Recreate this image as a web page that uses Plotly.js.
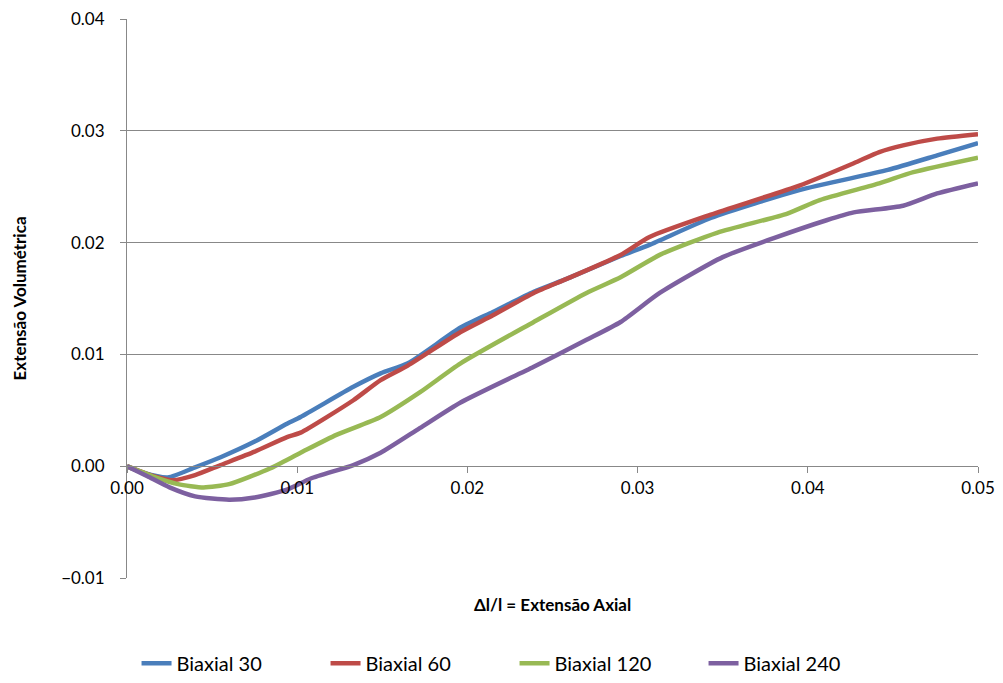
<!DOCTYPE html>
<html>
<head>
<meta charset="utf-8">
<script src="https://cdn.plot.ly/plotly-3.0.1.min.js"></script>
<style>html,body{margin:0;padding:0;background:#fff;}#chart{width:1003px;height:683px;}</style>
</head>
<body>
<div id="chart"></div>
<script>
const seriesNames = ["Biaxial 30", "Biaxial 60", "Biaxial 120", "Biaxial 240"];
const seriesColors = ["#4A7EBB", "#BE4B48", "#98B954", "#7D60A0"];

const x30 = [0, 0.001, 0.0024, 0.004, 0.0055, 0.0075, 0.0094, 0.0102, 0.0133, 0.0149, 0.0165, 0.0196, 0.0215, 0.0239, 0.0259, 0.029, 0.0307, 0.0343, 0.0395, 0.0447, 0.0476, 0.05];
const y30 = [0, -0.0006, -0.001, -0.0001, 0.0008, 0.0022, 0.0038, 0.0044, 0.0071, 0.0083, 0.0092, 0.0124, 0.0138, 0.0156, 0.0168, 0.0188, 0.0198, 0.0222, 0.0247, 0.0265, 0.0278, 0.0289];

const x60 = [0, 0.0012, 0.0027, 0.004, 0.0055, 0.0075, 0.0094, 0.0102, 0.0133, 0.0149, 0.0165, 0.0196, 0.0215, 0.0239, 0.0259, 0.029, 0.0307, 0.0343, 0.0395, 0.0427, 0.0442, 0.0456, 0.0476, 0.05];
const y60 = [0, -0.0007, -0.00125, -0.0008, 0.0001, 0.0013, 0.0026, 0.0030, 0.0059, 0.0077, 0.0090, 0.0120, 0.0135, 0.0155, 0.0168, 0.0189, 0.0205, 0.0225, 0.0251, 0.0271, 0.0281, 0.0287, 0.0293, 0.0297];

const x120 = [0, 0.0015, 0.003, 0.0045, 0.006, 0.0084, 0.0102, 0.0123, 0.0149, 0.0172, 0.0196, 0.0239, 0.027, 0.029, 0.0313, 0.0347, 0.0388, 0.0407, 0.0442, 0.0462, 0.05];
const y120 = [0, -0.0009, -0.0016, -0.0019, -0.0016, -0.0002, 0.0012, 0.0028, 0.0044, 0.0066, 0.0092, 0.0129, 0.0155, 0.0169, 0.0189, 0.0209, 0.0226, 0.0238, 0.0253, 0.0263, 0.0276];

const x240 = [0, 0.0012, 0.0025, 0.004, 0.006, 0.0075, 0.0094, 0.0108, 0.0133, 0.0149, 0.0172, 0.0196, 0.0239, 0.027, 0.029, 0.0313, 0.035, 0.038, 0.0411, 0.0427, 0.0456, 0.0476, 0.05];
const y240 = [0, -0.0009, -0.0019, -0.0027, -0.0030, -0.0028, -0.0021, -0.0011, 0.0001, 0.0012, 0.0034, 0.0057, 0.0089, 0.0113, 0.0129, 0.0155, 0.0187, 0.0204, 0.0220, 0.0227, 0.0233, 0.0244, 0.0253];

const xTickVals = [0, 0.01, 0.02, 0.03, 0.04, 0.05];
const yTickVals = [-0.01, 0, 0.01, 0.02, 0.03, 0.04];
const xTitle = "Δl/l = Extensão Axial";
const yTitle = "Extensão Volumétrica";

const xs = [x30, x60, x120, x240];
const ys = [y30, y60, y120, y240];
const FONT = "Lato, 'Liberation Sans', sans-serif";

const traces = seriesNames.map((n, i) => ({
  x: xs[i], y: ys[i], name: n, type: "scatter", mode: "lines",
  line: {color: seriesColors[i], width: 4.5, shape: "spline", smoothing: 0.6}
}));

const layout = {
  width: 1003, height: 683,
  margin: {l: 127, r: 25, t: 19, b: 105, autoexpand: false},
  paper_bgcolor: "#fff", plot_bgcolor: "#fff",
  font: {family: FONT, size: 17, color: "#000"},
  showlegend: true,
  legend: {orientation: "h", xref: "container", yref: "container",
           x: 0.513, xanchor: "center", y: 0.029, yanchor: "middle",
           font: {family: FONT, size: 20}, entrywidth: 144, entrywidthmode: "pixels",
           traceorder: "normal"},
  xaxis: {
    range: [0, 0.05], tickvals: xTickVals, tickformat: ".2f",
    anchor: "free", position: 0.2,
    showgrid: false, zeroline: false, showline: true, linecolor: "#888", linewidth: 1,
    ticks: "outside", ticklen: 6, tickcolor: "#888",
    tickfont: {family: FONT, size: 17}
  },
  yaxis: {
    range: [-0.01, 0.04], tickvals: yTickVals, tickformat: ".2f",
    showgrid: true, gridcolor: "#888", gridwidth: 1, zeroline: false,
    showline: true, linecolor: "#888", linewidth: 1,
    ticks: "outside", ticklen: 6, tickcolor: "#888", ticklabelstandoff: 12,
    tickfont: {family: FONT, size: 17},
    title: {text: "<b>" + yTitle + "</b>", font: {family: FONT, size: 17}, standoff: 30}
  },
  annotations: [{
    text: "<b>" + xTitle + "</b>", xref: "paper", yref: "paper",
    x: 0.5, y: -0.025, xanchor: "center", yanchor: "top", showarrow: false,
    font: {family: FONT, size: 17}
  }]
};

Plotly.newPlot("chart", traces, layout, {displayModeBar: false});
</script>
</body>
</html>
